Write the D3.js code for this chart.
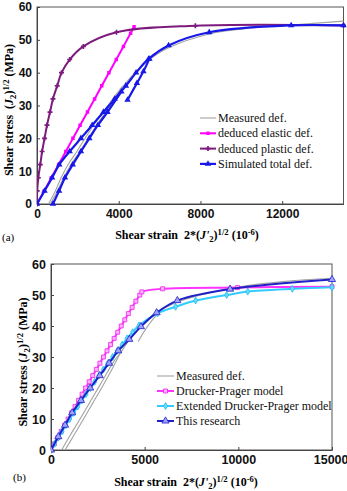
<!DOCTYPE html>
<html>
<head>
<meta charset="utf-8">
<script src="https://cdnjs.cloudflare.com/ajax/libs/d3/7.8.5/d3.min.js"></script>
<style>
body { margin: 0; background: #fff; }
</style>
</head>
<body>
<div id="chart"></div>
<script>
// ---- data, panel (a) ----
var xTicksA = [0, 4000, 8000, 12000];
var xTicksB = [0, 5000, 10000, 15000];
var yTicks = [0, 10, 20, 30, 40, 50, 60];

var measuredA1 = [[650,0],[1000,4],[1300,8],[1700,12.4],[2100,16],[2450,19.5],[2980,24.6],[3420,28.5],[3900,33],[4400,37.3],[4900,40.6],[5460,43.8],[6440,47.6],[8430,51.8],[10500,53.6],[12440,54.5],[15000,55.7]];
var measuredA2 = [[560,0],[900,4],[1180,8],[1560,12.4],[1950,16],[2300,19.5],[2830,24.6],[3300,28.5],[3800,32.8],[4200,36]];
var elasticA = [[0,0],[350,4],[700,8],[1060,12],[1410,16],[1760,20],[2110,24],[2470,28],[2820,32],[3170,36],[3520,40],[3880,44],[4230,48],[4580,52],[4750,54]];
var plasticA = [[0,0],[10,4],[65,8],[160,12],[250,16],[370,20],[490,24],[637,28],[780,32],[990,36],[1200,40],[1600,44],[2270,48],[3890,52.3],[7750,54.3],[15000,54.4]];
var totalA1 = [[0,0],[370,4],[740,8],[1090,12],[1600,16],[2150,20],[2700,24],[3250,28],[3800,32],[4350,36],[4850,40],[5460,44.2],[6440,48.3],[8430,52.3],[12440,54.4],[15000,54.4]];
var totalA2 = [[780,0],[1080,4],[1370,8],[1750,12],[2150,16],[2560,20],[2980,24],[3450,28],[4130,34.2]];
var totalA3 = [[4430,31.7],[4890,36.8],[5210,40.4],[5500,44.2]];
var legendA = ["Measured def.", "deduced elastic def.", "deduced plastic def.", "Simulated total def."];

// ---- data, panel (b) ----
var measuredB1 = [[570,0],[1000,4.5],[1500,9.5],[2000,14.6],[2500,19.8],[3000,25],[3400,29],[3700,31.3],[4200,35.7],[4800,39.8],[5640,44.3],[6700,47.6],[8000,50],[10000,52.6],[12500,54.4],[15000,55.4]];
var measuredB2 = [[750,0],[1200,4.5],[1700,9.6],[2200,14.8],[2700,20],[3200,25.4],[3760,32]];
var measuredB3 = [[4650,34.9],[5000,38.5],[5350,41.5],[5640,43.5]];
var druckerB = [[0,0],[180,2],[360,4],[545,6],[730,8],[915,10],[1100,12],[1285,14],[1470,16],[1660,18],[1850,20],[2040,22],[2230,24],[2420,26],[2610,28],[2800,30],[2990,32],[3180,34],[3370,36],[3560,38],[3750,40],[3940,42],[4130,44],[4330,46],[4530,48],[4740,50],[4850,51],[5960,52],[9960,52.4],[15000,52.7]];
var extendedB = [[0,0],[190,2],[390,4],[590,6],[790,8],[1000,10],[1210,12],[1430,14],[1650,16],[1870,18],[2100,20],[2330,22],[2560,24],[2800,26],[3040,28],[3290,30],[3540,32],[3800,34],[4060,36],[4360,38],[4700,40.2],[5690,44.1],[6650,46.2],[7720,48.2],[9380,50],[10500,51.1],[12880,52],[15000,52.5]];
var researchB = [[0,0],[390,4.3],[750,8],[1130,12],[1600,16],[2090,20],[2600,24],[3100,28],[3590,32],[4180,35.7],[4800,39.8],[5640,44.3],[6745,48.2],[9560,51.9],[15000,55]];
var legendB = ["Measured def.", "Drucker-Prager model", "Extended Drucker-Prager model", "This research"];

var w = 347, h = 491;
var serif = "'Liberation Serif', 'Times New Roman', serif";
var sans = "'Liberation Sans', Arial, sans-serif";

var svg = d3.select("#chart").append("svg")
    .attr("width", w)
    .attr("height", h);

// text with italic / sub / sup pieces
function richText(sel, parts, fs) {
    var t = sel.append("text")
        .attr("font-family", serif)
        .attr("font-weight", "bold")
        .attr("font-size", fs + "px")
        .attr("text-anchor", "middle");
    var shift = 0;
    parts.forEach(function (p) {
        var s = t.append("tspan").text(p[0]);
        var target = p[1] == "sub" ? 3 : (p[1] == "sup" ? -4 : 0);
        if (target != shift) { s.attr("dy", target - shift); shift = target; }
        if (p[1] == "sub" || p[1] == "sup") s.attr("font-size", (fs * 0.72) + "px");
        if (p[1] == "i") s.attr("font-style", "italic");
    });
    return t;
}

function drawPanel(p) {
    var x = d3.scaleLinear().domain([0, 15000]).range([p.left, p.right]);
    var y = d3.scaleLinear().domain([0, 60]).range([p.bottom, p.top]);
    var g = svg.append("g");

    // frame
    g.append("rect")
        .attr("x", p.left).attr("y", p.top)
        .attr("width", p.right - p.left).attr("height", p.bottom - p.top)
        .attr("fill", "none").attr("stroke", "#555").attr("stroke-width", 1);

    var xAxis = d3.axisBottom(x).tickValues(p.xTicks).tickSize(-3).tickSizeOuter(0).tickPadding(5).tickFormat(d3.format("d"));
    var yAxis = d3.axisLeft(y).tickValues(yTicks).tickSize(-3).tickSizeOuter(0).tickPadding(5);

    var ax = g.append("g").attr("transform", `translate(0,${p.bottom})`).call(xAxis);
    var ay = g.append("g").attr("transform", `translate(${p.left},0)`).call(yAxis);
    [ax, ay].forEach(function (a) {
        a.select(".domain").attr("stroke", "#444");
        a.selectAll(".tick line").attr("stroke", "#444");
        a.selectAll("text")
            .attr("font-family", sans)
            .attr("font-weight", "bold")
            .attr("font-size", p.tickFont + "px")
            .attr("fill", "#111");
    });
    // last x label would run past the page edge
    ax.selectAll(".tick text").filter(d => d == 15000).attr("text-anchor", "end").attr("x", 16);

    var line = d3.line()
        .x(d => x(d[0]))
        .y(d => y(d[1]))
        .curve(d3.curveCatmullRom.alpha(0.5));

    var clipId = "clip" + p.name;
    svg.append("clipPath").attr("id", clipId).append("rect")
        .attr("x", p.left).attr("y", p.top - 6)
        .attr("width", p.right - p.left + 6).attr("height", p.bottom - p.top + 12);
    var plot = g.append("g").attr("clip-path", `url(#${clipId})`);

    p.series.forEach(function (s) {
        plot.append("path")
            .datum(s.data)
            .attr("d", line)
            .attr("fill", "none")
            .attr("stroke", s.color)
            .attr("stroke-width", s.width);
        if (s.symbol) {
            plot.selectAll(null)
                .data(s.data)
                .enter()
                .append("path")
                .attr("transform", d => `translate(${x(d[0])},${y(d[1])})`)
                .attr("d", d3.symbol().type(s.symbol).size(s.size))
                .attr("fill", s.fill)
                .attr("stroke", s.stroke || "none")
                .attr("stroke-width", 0.8);
        }
    });

    // legend
    var lg = g.append("g");
    p.legend.forEach(function (label, i) {
        var s = p.legendSeries[i];
        var ly = p.legY + i * p.legStep;
        lg.append("line")
            .attr("x1", p.legX).attr("x2", p.legX + p.legLen)
            .attr("y1", ly).attr("y2", ly)
            .attr("stroke", s.color).attr("stroke-width", s.width);
        if (s.symbol) {
            lg.append("path")
                .attr("transform", `translate(${p.legX + p.legLen / 2},${ly})`)
                .attr("d", d3.symbol().type(s.symbol).size(s.size))
                .attr("fill", s.fill)
                .attr("stroke", s.stroke || "none")
                .attr("stroke-width", 0.8);
        }
        lg.append("text")
            .attr("x", p.legX + p.legLen + 2)
            .attr("y", ly + 4)
            .attr("font-family", serif)
            .attr("font-size", p.legFont + "px")
            .attr("fill", "#111")
            .text(label);
    });

    // axis titles
    richText(g, [["Shear strain\u00a0 2*(", ""], ["J'", "i"], ["2", "sub"], [")", ""], ["1/2", "sup"], [" (10", ""], ["-6", "sup"], [")", ""]], p.titleFont)
        .attr("x", p.xTitleX).attr("y", p.xTitleY);
    richText(g, [[p.yTitleStart, ""], ["J", "i"], ["2", "sub"], [")", ""], ["1/2", "sup"], [" (MPa)", ""]], p.titleFont)
        .attr("transform", `translate(${p.yTitleX},${p.yTitleY}) rotate(-90)`);

    g.append("text")
        .attr("x", p.tagX).attr("y", p.tagY)
        .attr("font-family", serif)
        .attr("font-size", "11px")
        .text(p.tag);
}

var grayS = { color: "#a3a3a3", width: 1.1 };

var elasticS = { color: "#ff00ff", width: 2, symbol: d3.symbolSquare, size: 12, fill: "#ff00ff" };
var plasticS = { color: "#7d1a7d", width: 2, symbol: d3.symbolCross, size: 14, fill: "#7d1a7d" };
var totalS = { color: "#1818e8", width: 2.2, symbol: d3.symbolTriangle, size: 18, fill: "#1818e8" };

drawPanel({
    name: "a", left: 37, right: 343.5, top: 7, bottom: 204,
    xTicks: xTicksA, tickFont: 12,
    series: [
        Object.assign({ data: measuredA1 }, grayS),
        Object.assign({ data: measuredA2 }, grayS),
        Object.assign({ data: elasticA }, elasticS),
        Object.assign({ data: plasticA }, plasticS),
        Object.assign({ data: totalA1 }, totalS),
        Object.assign({ data: totalA2 }, totalS),
        Object.assign({ data: totalA3 }, totalS)
    ],
    legend: legendA,
    legendSeries: [grayS, elasticS, plasticS, totalS],
    legX: 200, legY: 118, legStep: 15.3, legLen: 16, legFont: 12,
    titleFont: 12, xTitleX: 187, xTitleY: 239,
    yTitleStart: "Shear stress\u00a0 (", yTitleX: 13, yTitleY: 110,
    tag: "(a)", tagX: 2, tagY: 241
});

var druckerS = { color: "#ff33ff", width: 2, symbol: d3.symbolSquare, size: 16, fill: "#ffb3ff", stroke: "#ee22ee" };
var extendedS = { color: "#33ccff", width: 2, symbol: d3.symbolDiamond, size: 14, fill: "#66ddff", stroke: "#22bbee" };
var researchS = { color: "#2020c8", width: 2, symbol: d3.symbolTriangle, size: 22, fill: "#a0a0ff", stroke: "#2020c8" };

drawPanel({
    name: "b", left: 51, right: 332, top: 264, bottom: 450,
    xTicks: xTicksB, tickFont: 12.5,
    series: [
        Object.assign({ data: measuredB1 }, grayS),
        Object.assign({ data: measuredB2 }, grayS),
        Object.assign({ data: measuredB3 }, grayS),
        Object.assign({ data: druckerB }, druckerS),
        Object.assign({ data: extendedB }, extendedS),
        Object.assign({ data: researchB }, researchS)
    ],
    legend: legendB,
    legendSeries: [grayS, druckerS, extendedS, researchS],
    legX: 157, legY: 376, legStep: 15, legLen: 17, legFont: 12,
    titleFont: 12, xTitleX: 186, xTitleY: 486,
    yTitleStart: "Shear stress (", yTitleX: 27, yTitleY: 362,
    tag: "(b)", tagX: 13, tagY: 481
});
</script>
</body>
</html>
